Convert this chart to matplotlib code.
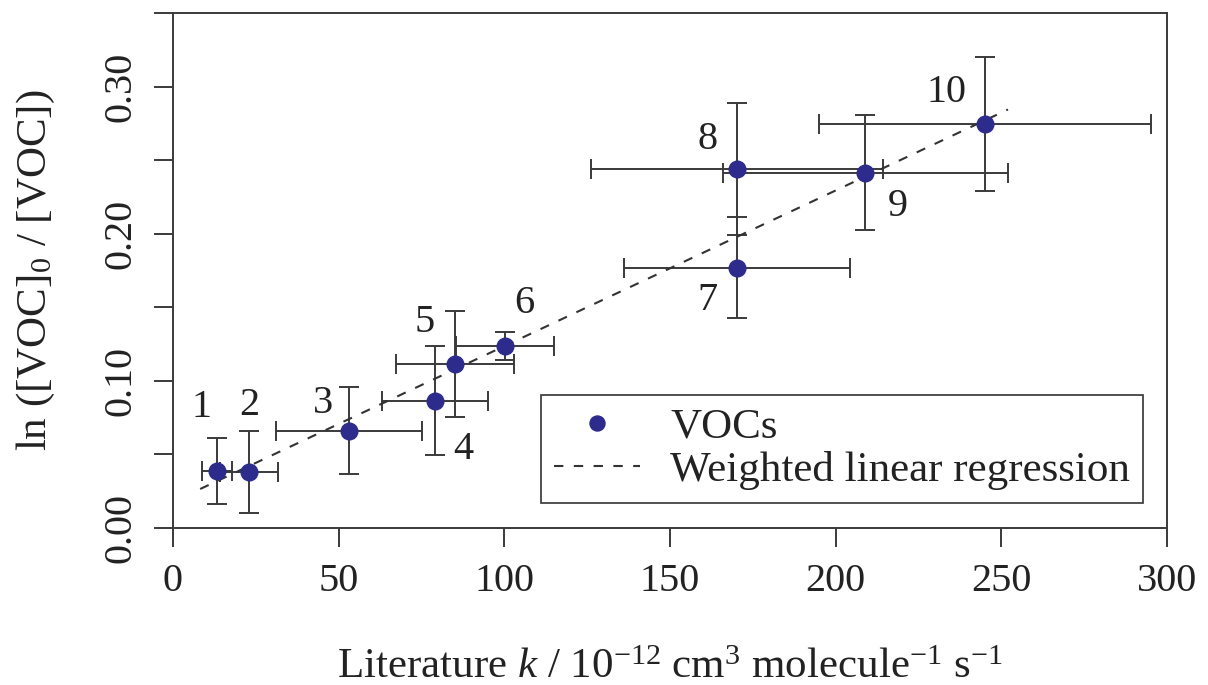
import numpy as np
import matplotlib
matplotlib.use("Agg")
import matplotlib.pyplot as plt
from matplotlib.ticker import FixedLocator, FormatStrFormatter

plt.rcParams['font.family'] = ['Liberation Serif', 'DejaVu Serif']
plt.rcParams['mathtext.fontset'] = 'custom'
plt.rcParams['mathtext.rm'] = 'Liberation Serif'
plt.rcParams['mathtext.it'] = 'Liberation Serif:italic'

# data
voc_id = ['1', '2', '3', '4', '5', '6', '7', '8', '9', '10']
k_lit = [13.3, 22.9, 53.1, 79.1, 85.1, 100.2, 170.2, 170.2, 208.9, 245.1]
k_err = [4.5, 8.8, 21.9, 16.0, 17.8, 14.9, 34.0, 44.1, 43.0, 50.1]
ln_ratio = [0.0388, 0.0381, 0.066, 0.0864, 0.1116, 0.1238, 0.1769, 0.2442, 0.2415, 0.2748]
ln_err = [0.0224, 0.0279, 0.0296, 0.0371, 0.036, 0.0095, 0.0344, 0.0449, 0.0391, 0.0456]

# weighted linear regression line (end points)
reg_x = [8.2, 252.0]
reg_y = [0.0265, 0.2844]

# label offsets in points (x, y) for the VOC numbers
lab_off = [(-11.5, 46), (0, 48), (-18.7, 19.5), (20.2, -35), (-21.6, 29.5),
           (13.7, 30.5), (-20.9, -23.5), (-20.9, 21), (23.8, -24.5), (-28, 22.5)]

dark = '#3a3a3a'
navy = '#2d2b8c'

fig = plt.figure(figsize=(12.08, 6.85), dpi=100)
ax = fig.add_axes([173/1208, (685-528)/685, (1167-173)/1208, (528-13)/685])

ax.errorbar(k_lit, ln_ratio, xerr=k_err, yerr=ln_err, fmt='none', ecolor=dark,
            elinewidth=1.4, capsize=7.2, capthick=1.4, zorder=2)
ax.plot(reg_x, reg_y, linestyle='--', dashes=(4.5, 5), color='#333333', lw=1.5,
        zorder=2.5, label='Weighted linear regression')
ax.plot(k_lit, ln_ratio, 'o', color=navy, ms=12, mec=navy, zorder=3, label='VOCs')

for i, t in enumerate(voc_id):
    ax.annotate(t, (k_lit[i], ln_ratio[i]), xytext=lab_off[i], textcoords='offset points',
                ha='center', va='center', fontsize=29, color='#222222')

ax.set_xlim(0, 300)
ax.set_ylim(0, 0.35)
ax.xaxis.set_major_locator(FixedLocator([0, 50, 100, 150, 200, 250, 300]))
ax.yaxis.set_major_locator(FixedLocator([0.0, 0.1, 0.2, 0.3]))
ax.yaxis.set_minor_locator(FixedLocator([0.05, 0.15, 0.25, 0.35]))
ax.yaxis.set_major_formatter(FormatStrFormatter('%.2f'))
ax.tick_params(axis='both', which='both', length=14, width=1.4, color=dark,
               labelsize=29, labelcolor='#222222', pad=11, direction='out')
ax.tick_params(axis='y', pad=10)
plt.setp(ax.get_yticklabels(), rotation=90, va='center')
for s in ax.spines.values():
    s.set_linewidth(1.4)
    s.set_color(dark)

ax.set_xlabel(r'Literature $k$ / 10$^{-12}$ cm$^{3}$ molecule$^{-1}$ s$^{-1}$',
              fontsize=31, color='#222222', labelpad=35)
ax.set_ylabel(r'ln ([VOC]$_{0}$ / [VOC])', fontsize=31, color='#222222', labelpad=33)

h, l = ax.get_legend_handles_labels()
leg = ax.legend([h[1], h[0]], [l[1], l[0]], loc='lower right', bbox_to_anchor=(0.976, 0.0485),
                borderaxespad=0, fancybox=False, edgecolor='#333333', framealpha=1,
                fontsize=31, handlelength=2.0, handletextpad=0.7, labelspacing=0.1,
                borderpad=0.3, markerscale=0.9)
leg.get_frame().set_linewidth(1.2)
leg.get_lines()[0].set_linewidth(2.0)
for t in leg.get_texts():
    t.set_color('#222222')

fig.savefig('out.png', dpi=100)
